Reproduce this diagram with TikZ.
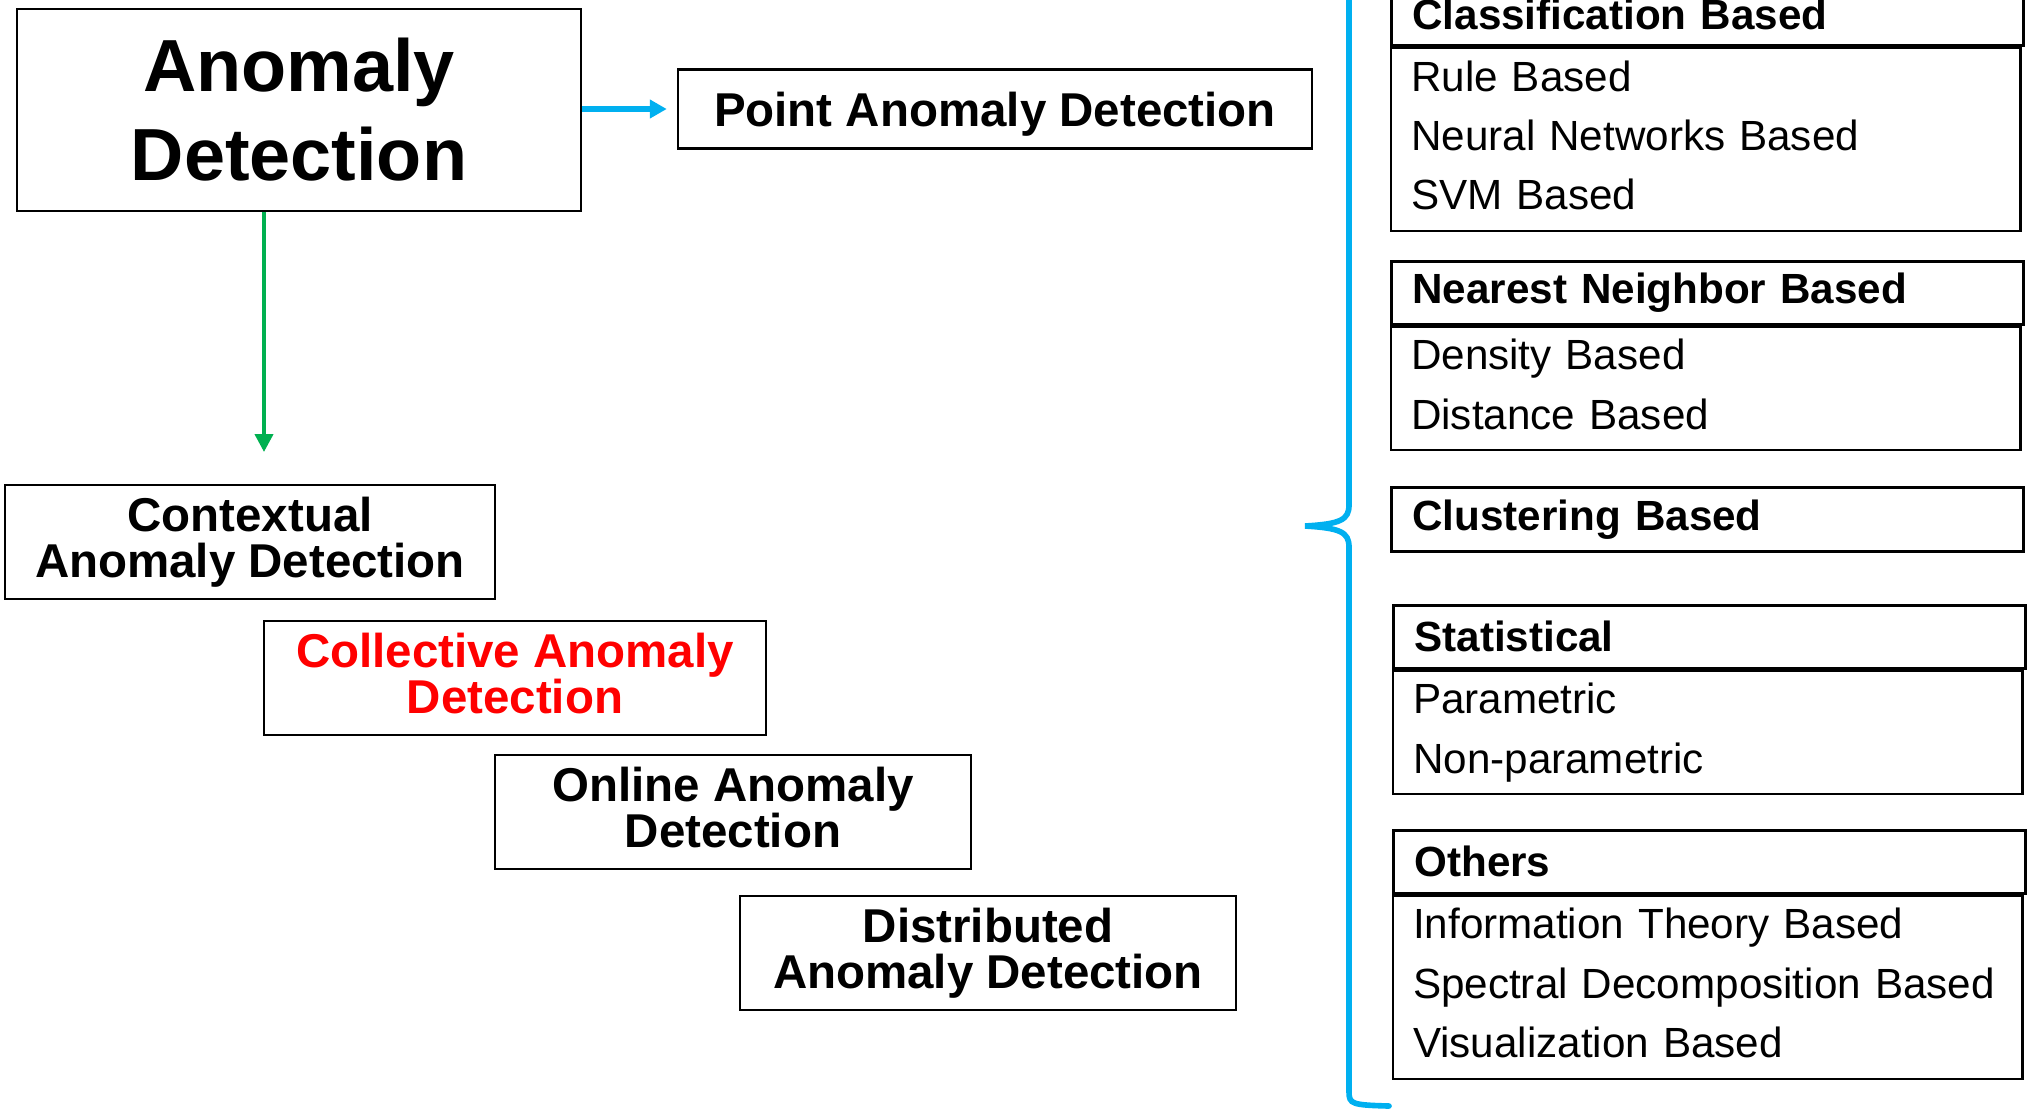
\documentclass[tikz,border=0pt]{standalone}
\usepackage{fontspec}
\setmainfont{Liberation Sans}
\usetikzlibrary{arrows.meta}

\definecolor{arrowblue}{HTML}{00B0F0}
\definecolor{arrowgreen}{HTML}{00B050}

\tikzset{
    box/.style={draw, line width=0.6pt, align=center, inner sep=0pt,
        font=\bfseries\fontsize{13.5}{13}\selectfont},
    deep/.style={execute at end node={\vphantom{y}}},
    hdr/.style={draw, line width=0.75pt, anchor=north west, align=left,
        text width=5.90cm, inner xsep=0.21cm, minimum height=0.63cm,
        font=\bfseries\fontsize{12}{14}\selectfont},
    items/.style={draw, line width=0.6pt, anchor=north west, align=left,
        text width=5.89cm, inner xsep=0.2cm, inner ysep=0pt,
        font=\fontsize{12}{16.9}\selectfont,
        execute at begin node={\rule{0pt}{0.43cm}},
        execute at end node={\rule[-0.21cm]{0pt}{0.21cm}}}
}

\begin{document}
\begin{tikzpicture}[x=0.01cm, y=-0.01cm]
    \path[use as bounding box] (0,0) rectangle (2028,1108);
    \clip (0,0) rectangle (2028,1108);

    \node [box, minimum width=5.64cm, minimum height=2.02cm,
        font=\bfseries\fontsize{21}{25.3}\selectfont] (ad) at (299,110) {Anomaly\\Detection};
    \node [box, minimum width=6.34cm, minimum height=0.79cm,
        execute at begin node={\rule{0pt}{0.45cm}}] (pad) at (995,109) {Point Anomaly Detection};

    \node [box, minimum width=4.89cm, minimum height=1.14cm] (ctx)  at (250,542) {Contextual\\Anomaly Detection};
    \node [box, deep, minimum width=5.02cm, minimum height=1.14cm, text=red] (col) at (515,678) {Collective Anomaly\\Detection};
    \node [box, deep, minimum width=4.76cm, minimum height=1.14cm] (onl)  at (733,812) {Online Anomaly\\Detection};
    \node [box, minimum width=4.96cm, minimum height=1.14cm] (dist) at (988,953) {Distributed\\Anomaly Detection};

    \draw [arrowblue, line width=1.6pt, shorten >=0.1cm, -{Triangle[length=0.17cm, width=0.18cm]}] (ad.east |- pad.west) -- (pad.west);

    \coordinate (ctxin) at (264,452);
    \draw [arrowgreen, line width=1.15pt, -{Triangle[length=0.18cm, width=0.18cm]}] (ad.south -| ctxin) -- (ctxin);

    % techniques
    \node [hdr, anchor=south west] (clsh) at (1390,47) {Classification Based};
    \node [items] (clsi) at (clsh.south west) {Rule Based\\Neural Networks Based\\SVM Based};

    \node [hdr] (nnh) at (1390,260) {Nearest Neighbor Based};
    \node [items] (nni) at (nnh.south west) {Density Based\\Distance Based};

    \node [hdr, minimum height=0.64cm] (clu) at (1390,486) {Clustering Based};

    \node [hdr] (sth) at (1392,604) {Statistical};
    \node [items] (sti) at (sth.south west) {Parametric\\Non-parametric};

    \node [hdr] (oth) at (1392,829) {Others};
    \node [items] (oti) at (oth.south west) {Information Theory Based\\Spectral Decomposition Based\\Visualization Based};

    \coordinate (tip) at (1305,526);
    \draw [arrowblue, line width=1.6pt, line cap=round]
        (1389,-54) .. controls (1352,-54) and (1349,-50) .. (1349,-38)
        -- (1349,505) .. controls (1349,520) and (1340,524) .. (tip)
        .. controls (1340,528) and (1349,532) .. (1349,547)
        -- (1349,1092) .. controls (1349,1104) and (1352,1105) .. (1389,1106);
\end{tikzpicture}
\end{document}
